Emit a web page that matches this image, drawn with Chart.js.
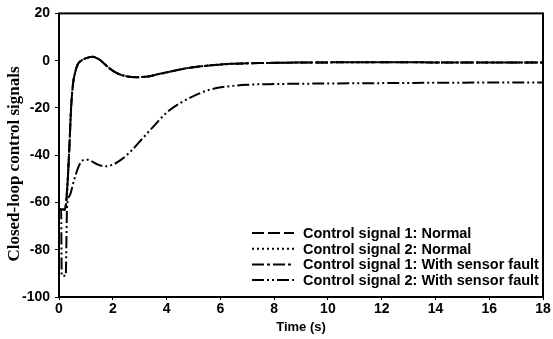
<!DOCTYPE html>
<html>
<head>
<meta charset="utf-8">
<script src="https://cdn.jsdelivr.net/npm/chart.js@4"></script>
<style>
  html, body { margin: 0; padding: 0; background: #fff; }
  #wrap { width: 553px; height: 339px; position: relative; }
</style>
</head>
<body>
<div id="wrap"><canvas id="myChart"></canvas></div>
<script>
// --- data ---
const xTicks = [0, 2, 4, 6, 8, 10, 12, 14, 16, 18];
const yTicks = [-100, -80, -60, -40, -20, 0, 20];
const yTitle = 'Closed-loop control signals';

// upper curve: control signal 1 (both cases) and control signal 2 (normal)
const upperTime = [0, 0.22, 0.3, 0.38, 0.45, 0.52, 0.6, 0.7, 0.85, 1.0, 1.25, 1.5, 1.8, 2.1, 2.5, 2.9, 3.3, 3.7, 4.1, 4.6, 5.2, 5.8, 6.5, 7.5, 9, 11, 13, 15, 18];
const upperValue = [-63, -63, -55, -38, -20, -10, -5, -1.5, 0.2, 1.0, 1.7, 0.5, -2.5, -5, -6.6, -7.0, -6.7, -5.7, -4.7, -3.5, -2.5, -1.8, -1.3, -1.0, -0.8, -0.7, -0.7, -0.8, -0.8];

// lower curve: control signal 2 with sensor fault
const lowerTime = [0, 0.08, 0.1, 0.25, 0.3, 0.4, 0.55, 0.72, 0.85, 1.0, 1.2, 1.45, 1.7, 2.0, 2.3, 2.7, 3.1, 3.5, 4.0, 4.5, 5.0, 5.6, 6.2, 7.0, 8, 9.5, 12, 15, 18];
const lowerValue = [-63, -63, -91, -91, -62, -57, -51, -45, -42.5, -41.8, -42.5, -44, -44.7, -44, -42, -38, -33, -28, -22, -18, -15, -12.3, -11, -10.2, -9.9, -9.7, -9.5, -9.3, -9.2];

const seriesLabels = [
  'Control signal 1: Normal',
  'Control signal 2: Normal',
  'Control signal 1: With sensor fault',
  'Control signal 2: With sensor fault'
];

function pts(t, v) {
  return t.map((x, i) => ({ x: x, y: v[i] }));
}

const dashes = [[12, 4], [2, 3], [12, 3, 3, 3], [12, 3, 2, 3, 2, 3]];
const curves = [
  pts(upperTime, upperValue),
  pts(upperTime, upperValue),
  pts(upperTime, upperValue),
  pts(lowerTime, lowerValue)
];

const datasets = seriesLabels.map((label, i) => ({
  label: label,
  data: curves[i],
  borderColor: '#000',
  borderWidth: 2,
  borderDash: dashes[i],
  pointRadius: 0,
  fill: false,
  cubicInterpolationMode: 'monotone'
}));

// frame around the plot + rotated y title
const frame = {
  id: 'frame',
  afterDatasetsDraw(chart) {
    const a = chart.chartArea, ctx = chart.ctx;
    ctx.save();
    ctx.strokeStyle = '#000';
    ctx.lineWidth = 2;
    ctx.strokeRect(a.left, a.top, a.right - a.left, a.bottom - a.top);
    ctx.translate(15, 164);
    ctx.rotate(-Math.PI / 2);
    ctx.font = 'bold 17px "Liberation Serif", "Times New Roman", serif';
    ctx.fillStyle = '#000';
    ctx.textAlign = 'center';
    ctx.textBaseline = 'middle';
    ctx.fillText(yTitle, 0, 0);
    ctx.restore();
  }
};

// legend drawn inside the plot, lower right
const innerLegend = {
  id: 'innerLegend',
  afterDatasetsDraw(chart) {
    const ctx = chart.ctx;
    ctx.save();
    ctx.font = 'bold 14.5px "Liberation Sans", Arial, sans-serif';
    ctx.fillStyle = '#000';
    ctx.textBaseline = 'middle';
    chart.data.datasets.forEach((ds, i) => {
      const y = 233 + i * 15.7;
      ctx.beginPath();
      ctx.setLineDash(ds.borderDash);
      ctx.lineWidth = 2;
      ctx.strokeStyle = '#000';
      ctx.moveTo(252, y);
      ctx.lineTo(294, y);
      ctx.stroke();
      ctx.setLineDash([]);
      ctx.fillText(ds.label, 303, y + 1);
    });
    ctx.restore();
  }
};

const tickFont = { family: '"Liberation Sans", Arial, sans-serif', size: 14, weight: 'bold' };

new Chart(document.getElementById('myChart'), {
  type: 'line',
  data: { datasets: datasets },
  options: {
    responsive: true,
    maintainAspectRatio: false,
    animation: false,
    layout: { padding: { top: 12, right: 10, left: 0, bottom: 0 } },
    plugins: { legend: { display: false }, tooltip: { enabled: false } },
    scales: {
      x: {
        type: 'linear',
        min: 0, max: 18,
        afterBuildTicks(s) { s.ticks = xTicks.map(v => ({ value: v })); },
        afterFit(s) { s.height = 42; },
        grid: { display: true, drawOnChartArea: false, color: '#000', tickLength: 3 },
        border: { display: false },
        ticks: { color: '#000', font: tickFont, padding: 1, maxRotation: 0 },
        title: {
          display: true, text: 'Time (s)', color: '#000',
          font: { family: '"Liberation Sans", Arial, sans-serif', size: 13, weight: 'bold' },
          padding: { top: 0, bottom: 4 }
        }
      },
      y: {
        min: -100, max: 20,
        afterBuildTicks(s) { s.ticks = yTicks.map(v => ({ value: v })); },
        afterFit(s) { s.width = 59; },
        grid: { display: true, drawOnChartArea: false, color: '#000', tickLength: 4 },
        border: { display: false },
        ticks: { color: '#000', font: tickFont, padding: 5 },
        title: { display: false }
      }
    }
  },
  plugins: [frame, innerLegend]
});
</script>
</body>
</html>
